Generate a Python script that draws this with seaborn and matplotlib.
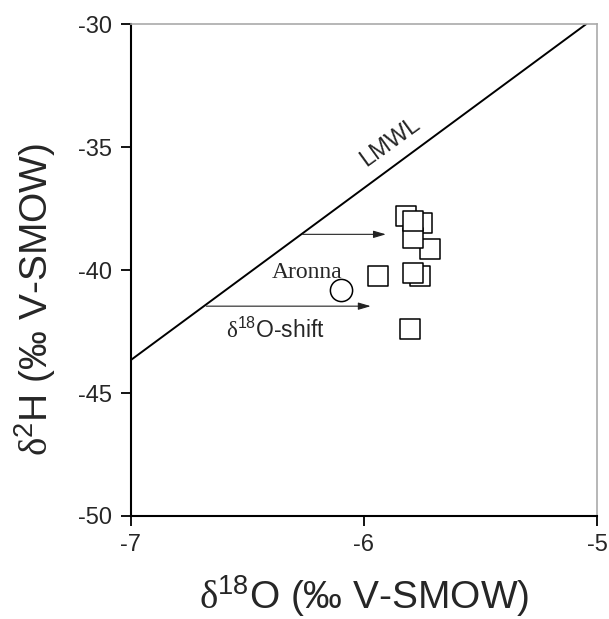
import pandas as pd
import numpy as np
import matplotlib.pyplot as plt
import seaborn as sns

# sample points, drawing order matters for overlaps
sample_d18O = [-5.819, -5.749, -5.717, -5.789, -5.789, -5.758, -5.789, -5.939, -5.800]
sample_d2H = [-37.82, -38.10, -39.13, -38.71, -38.02, -40.23, -40.12, -40.23, -42.41]

# Aronna point
aronna_d18O = [-6.099]
aronna_d2H = [-40.81]

# local meteoric water line end points
lmwl_d18O = [-7.0, -5.046]
lmwl_d2H = [-43.67, -30.0]

# d18O-shift arrows (start on LMWL, end near samples)
shift_x0 = [-6.262, -6.675]
shift_x1 = [-5.905, -5.970]
shift_y = [-38.55, -41.47]

x_ticks = [-7, -6, -5]
y_ticks = [-50, -45, -40, -35, -30]

samples = pd.DataFrame({'d18O': sample_d18O, 'd2H': sample_d2H})
aronna = pd.DataFrame({'d18O': aronna_d18O, 'd2H': aronna_d2H})
lmwl = pd.DataFrame({'d18O': lmwl_d18O, 'd2H': lmwl_d2H})

sns.set_style('ticks')
plt.rcParams['font.family'] = ['Liberation Sans', 'DejaVu Sans']
plt.rcParams['mathtext.fontset'] = 'custom'
plt.rcParams['mathtext.rm'] = 'Liberation Serif'
plt.rcParams['mathtext.sf'] = 'Liberation Sans'
plt.rcParams['axes.unicode_minus'] = False

fig = plt.figure(figsize=(6.09, 6.19), dpi=100)
ax = fig.add_axes([0.2143, 0.1664, 0.7660, 0.7948])

sns.lineplot(data=lmwl, x='d18O', y='d2H', color='black', lw=1.4, ax=ax)

for x0, x1, y in zip(shift_x0, shift_x1, shift_y):
    ax.annotate('', xy=(x1, y), xytext=(x0, y),
                arrowprops=dict(arrowstyle='-|>,head_length=0.75,head_width=0.22',
                                color='#222222', lw=0.8, shrinkA=0, shrinkB=0,
                                mutation_scale=10))

for i in range(len(samples)):
    sns.scatterplot(data=samples.iloc[[i]], x='d18O', y='d2H', marker='s', s=196,
                    facecolor='white', edgecolor='black', linewidth=1.1, ax=ax, zorder=3)
sns.scatterplot(data=aronna, x='d18O', y='d2H', marker='o', s=256,
                facecolor='white', edgecolor='black', linewidth=1.1, ax=ax, zorder=3)

ax.text(-6.395, -40.33, 'Aronna', family='Liberation Serif', fontsize=17,
        ha='left', va='baseline', zorder=2)
ax.text(-6.590, -42.76, r'$\mathrm{\delta}^{\mathsf{18}}$O-shift', fontsize=16.5,
        ha='left', va='baseline')
ax.text(-5.885, -34.80, 'LMWL', fontsize=17, rotation=36,
        ha='center', va='center', rotation_mode='anchor')

ax.set_xlim(-7, -5)
ax.set_ylim(-50, -30)
ax.set_xticks(x_ticks)
ax.set_yticks(y_ticks)
ax.set_xticklabels([str(t) for t in x_ticks])
ax.set_yticklabels([str(t) for t in y_ticks])
ax.tick_params(axis='both', direction='out', length=7, width=1.3, labelsize=17,
               color='black', pad=6, top=False, right=False)

for side in ['left', 'bottom']:
    ax.spines[side].set_color('black')
    ax.spines[side].set_linewidth(1.5)
for side in ['top', 'right']:
    ax.spines[side].set_visible(True)
    ax.spines[side].set_color('#aaaaaa')
    ax.spines[side].set_linewidth(1.2)

ax.set_xlabel(r'$\mathrm{\delta}^{\mathsf{18}}$O (‰ V-SMOW)', fontsize=28, labelpad=12)
ax.set_ylabel(r'$\mathrm{\delta}^{\mathsf{2}}$H (‰ V-SMOW)', fontsize=28)
ax.yaxis.set_label_coords(-0.155, 0.44)

fig.savefig('out.png', dpi=100)
